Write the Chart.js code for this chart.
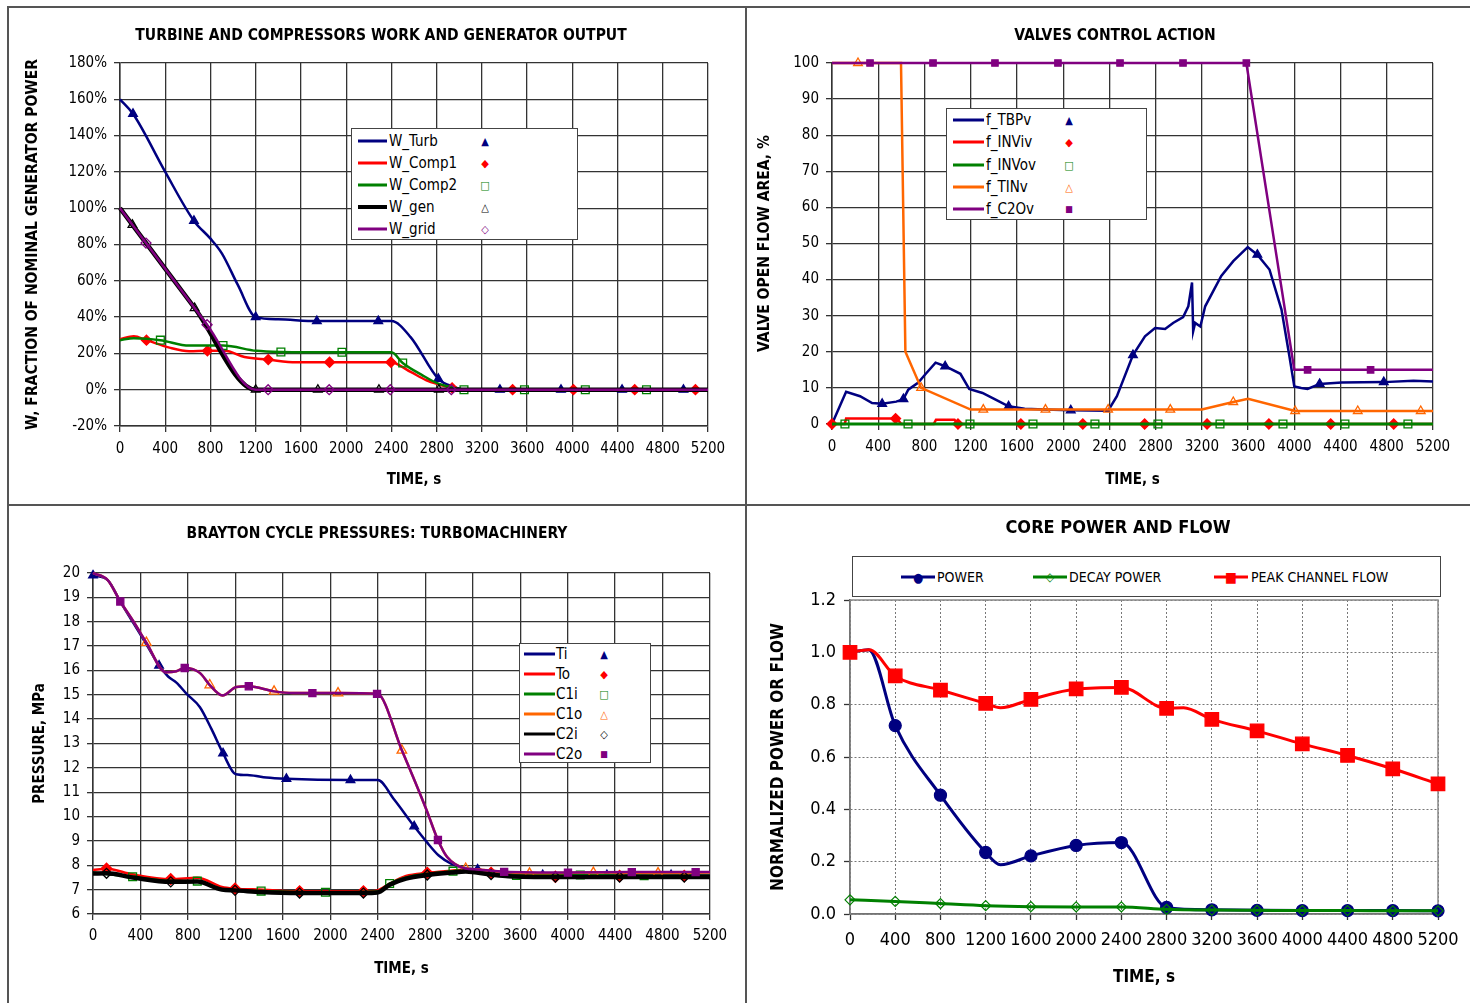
<!DOCTYPE html>
<html lang="en">
<head>
<meta charset="UTF-8">
<title>Brayton cycle transient</title>
<script src="https://cdn.jsdelivr.net/npm/chart.js"></script>
<style>
  body { margin: 0; width: 1470px; height: 1003px; position: relative; overflow: hidden; background: #fff;
         font-family: "DejaVu Sans Condensed", "Noto Sans", sans-serif; color: #000; }
  .rule { position: absolute; background: #555; }
  canvas { position: absolute; }
  .ptitle { position: absolute; font-weight: bold; white-space: nowrap; transform: translate(-50%, -50%); }
  .legend { position: absolute; border: 1.5px solid #444; background: #fff; box-sizing: border-box; }
  .legend div { position: absolute; white-space: nowrap; }
  .sw { height: 3px; transform: translateY(-50%); }
  .lbl { transform: translateY(-50%); }
  .mk { transform: translate(-50%, -50%); line-height: 1; }
</style>
</head>
<body>
<div class="rule" style="left:8px;top:6px;width:1462px;height:2px"></div>
<div class="rule" style="left:7px;top:6px;width:2px;height:997px"></div>
<div class="rule" style="left:745px;top:6px;width:2px;height:997px"></div>
<div class="rule" style="left:8px;top:504px;width:1462px;height:2px"></div>

<canvas id="work" width="734" height="494" style="left:10px;top:9px"></canvas>
<canvas id="valves" width="722" height="494" style="left:747px;top:9px"></canvas>
<canvas id="press" width="734" height="496" style="left:10px;top:507px"></canvas>
<canvas id="core" width="722" height="496" style="left:747px;top:507px"></canvas>

<div class="ptitle" style="left:381px;top:35px;font-size:15.5px">TURBINE AND COMPRESSORS WORK AND GENERATOR OUTPUT</div>
<div class="ptitle" style="left:1115px;top:35px;font-size:15.5px">VALVES CONTROL ACTION</div>
<div class="ptitle" style="left:377px;top:533px;font-size:15.5px">BRAYTON CYCLE PRESSURES: TURBOMACHINERY</div>
<div class="ptitle" style="left:1118px;top:526px;font-size:18px">CORE POWER AND FLOW</div>

<div id="leg1" class="legend"></div>
<div id="leg2" class="legend"></div>
<div id="leg3" class="legend"></div>
<div id="leg4" class="legend"></div>

<script>
// ---------- shared axis ticks ----------
const timeTicks = [0, 400, 800, 1200, 1600, 2000, 2400, 2800, 3200, 3600, 4000, 4400, 4800, 5200];
const workTicks = [-20, 0, 20, 40, 60, 80, 100, 120, 140, 160, 180];
const valveTicks = [0, 10, 20, 30, 40, 50, 60, 70, 80, 90, 100];
const pressTicks = [6, 7, 8, 9, 10, 11, 12, 13, 14, 15, 16, 17, 18, 19, 20];
const coreTicks = [0, 0.2, 0.4, 0.6, 0.8, 1.0, 1.2];

// ---------- panel 1: work, % of nominal generator power ----------
const workLabels = ['W_Turb', 'W_Comp1', 'W_Comp2', 'W_gen', 'W_grid'];
const wTurbT = [0, 115, 400, 654, 796, 902, 1043, 1200, 1400, 1741, 2284, 2400, 2570, 2815, 2955, 3050, 3360, 3900, 4440, 4983, 5200];
const wTurbV = [160, 152, 120, 93, 83.5, 75, 57.6, 40, 38.8, 37.8, 37.8, 37.8, 29, 6, 1.5, 0, 0, 0, 0, 0, 0];
const wTurbMk = [115, 654, 1200, 1741, 2284, 2815, 3360, 3900, 4440, 4983];
const wComp1T = [0, 122, 234, 437, 612, 773, 927, 1101, 1311, 1556, 1853, 2396, 2570, 2710, 2815, 2937, 3000, 3472, 4010, 4552, 5089, 5200];
const wComp1V = [27.8, 29.5, 27.3, 23.2, 21.2, 21.4, 21.4, 18, 16.6, 15.1, 15.1, 15.1, 9.8, 5.2, 3, 1, 0, 0, 0, 0, 0, 0];
const wComp1Mk = [234, 773, 1311, 1853, 2396, 2937, 3472, 4010, 4552, 5089];
const wComp2T = [0, 122, 357, 612, 911, 1206, 1423, 1963, 2400, 2500, 2675, 2815, 2920, 3042, 3577, 4115, 4656, 5200];
const wComp2V = [27.3, 28.4, 27.3, 24.3, 24.3, 21.4, 20.8, 20.6, 20.6, 14.7, 7.9, 3.3, 1.5, 0, 0, 0, 0, 0];
const wComp2Mk = [357, 911, 1423, 1963, 2500, 3042, 3577, 4115, 4656];
const wGenT = [0, 110, 660, 1200, 1750, 2290, 2820, 5200];
const wGenV = [100, 90.8, 45, 0, 0, 0, 0, 0];
const wGenMk = [110, 660, 1200, 1750, 2290, 2820];
const wGridT = [0, 230, 770, 1200, 1310, 1850, 2390, 2930, 5200];
const wGridV = [100, 80.8, 35.8, 0, 0, 0, 0, 0, 0];
const wGridMk = [230, 770, 1310, 1850, 2390, 2930];

// ---------- panel 2: valve open flow area, % ----------
const valveLabels = ['f_TBPv', 'f_INViv', 'f_INVov', 'f_TINv', 'f_C2Ov'];
const tbpT = [0, 122, 243, 347, 434, 556, 618, 660, 747, 806, 896, 979, 1111, 1187, 1302, 1424, 1528, 1667, 1840, 2066, 2389,
  2465, 2604, 2708, 2795, 2882, 2951, 3038, 3083, 3115, 3125, 3142, 3187, 3229, 3368, 3472, 3597, 3680, 3785, 3889, 3958,
  4000, 4060, 4115, 4219, 4410, 4774, 5031, 5200];
const tbpV = [0, 8.9, 7.7, 5.8, 5.6, 6.2, 6.9, 9.5, 11.5, 13.7, 17, 16, 13.9, 9.7, 8.6, 6.6, 4.9, 4.2, 4, 3.8, 3.7,
  7.7, 19.1, 24.3, 26.6, 26.3, 28, 29.6, 32.6, 39.2, 25.7, 28, 27, 32.6, 41, 45.1, 49, 46.9, 42.8, 31.7, 18.7,
  10.4, 10, 9.7, 11.1, 11.5, 11.6, 12, 11.8];
const tbpMk = [434, 618, 979, 1528, 2066, 2604, 3680, 4219, 4774];
const inviT = [0, 110, 122, 550, 560, 600, 880, 900, 1060, 1090, 1634, 2170, 2705, 3245, 3780, 4315, 4860, 5200];
const inviV = [0, 0, 1.5, 1.5, 1.5, 0, 0, 1.2, 1.2, 0, 0, 0, 0, 0, 0, 0, 0, 0];
const inviMk = [0, 550, 1090, 1634, 2170, 2705, 3245, 3780, 4315, 4860];
const invoT = [0, 112, 658, 1194, 1739, 2275, 2820, 3357, 3902, 4438, 4983, 5200];
const invoV = [0, 0, 0, 0, 0, 0, 0, 0, 0, 0, 0, 0];
const invoMk = [112, 658, 1194, 1739, 2275, 2820, 3357, 3902, 4438, 4983];
const tinT = [0, 225, 597, 635, 771, 1200, 1309, 1847, 2389, 2927, 3200, 3472, 3600, 4007, 4549, 5094, 5200];
const tinV = [100, 100, 100, 20, 10, 4, 4, 4, 4, 4, 4, 6.1, 7, 3.6, 3.6, 3.6, 3.6];
const tinMk = [225, 771, 1309, 1847, 2389, 2927, 3472, 4007, 4549, 5094];
const c2ovT = [0, 329, 874, 1410, 1955, 2492, 3037, 3585, 4000, 4115, 4660, 5200];
const c2ovV = [100, 100, 100, 100, 100, 100, 100, 100, 15, 15, 15, 15];
const c2ovMk = [329, 874, 1410, 1955, 2492, 3037, 3585, 4115, 4660];

// ---------- panel 3: Brayton cycle pressures, MPa ----------
const pressLabels = ['Ti', 'To', 'C1i', 'C1o', 'C2i', 'C2o'];
const tiT = [0, 126, 225, 337, 450, 557, 633, 703, 787, 900, 998, 1096, 1203, 1321, 1461, 1630, 2170, 2400, 2538, 2707, 2810,
  2914, 3017, 3138, 3241, 3362, 3500, 3790, 4331, 4872, 5200];
const tiP = [19.9, 19.7, 18.87, 17.97, 17.07, 16.2, 15.75, 15.5, 15.05, 14.5, 13.6, 12.6, 11.74, 11.7, 11.6, 11.55, 11.5, 11.5,
  10.7, 9.6, 8.97, 8.4, 8.07, 7.88, 7.83, 7.73, 7.65, 7.6, 7.6, 7.6, 7.6];
const tiMk = [0, 557, 1096, 1630, 2170, 2707, 3241, 3790, 4331, 4872];
const toT = [0, 114, 328, 655, 879, 1086, 1197, 1431, 1741, 2279, 2397, 2500, 2638, 2817, 3017, 3141, 3241, 3355, 3500, 3897, 4438, 4983, 5200];
const toP = [7.81, 7.86, 7.63, 7.43, 7.49, 7.11, 7.04, 7.0, 6.93, 6.93, 6.97, 7.25, 7.56, 7.69, 7.78, 7.83, 7.83, 7.69, 7.6, 7.53, 7.56, 7.56, 7.56];
const toMk = [114, 655, 1197, 1741, 2279, 2817, 3355, 3897, 4438, 4983];
const c1iT = [0, 334, 655, 879, 1086, 1417, 1959, 2397, 2500, 2638, 2817, 3034, 3141, 3300, 3569, 4107, 4645, 5200];
const c1iP = [7.7, 7.53, 7.36, 7.35, 7.02, 6.94, 6.89, 6.92, 7.25, 7.5, 7.65, 7.76, 7.8, 7.7, 7.58, 7.6, 7.57, 7.57];
const c1iMk = [334, 879, 1417, 1959, 2500, 3034, 3569, 4107, 4645];
const c1oT = [0, 126, 230, 337, 450, 613, 703, 773, 900, 984, 1091, 1209, 1313, 1526, 1686, 1849, 2065, 2394, 2603, 2810,
  2907, 2983, 3141, 3240, 3465, 3679, 4217, 4762, 5200];
const c1oP = [20, 19.7, 18.83, 18.04, 17.14, 15.93, 15.97, 16.1, 15.9, 15.4, 14.97, 15.32, 15.35, 15.14, 15.07, 15.07, 15.07,
  15.04, 12.72, 10.28, 9.04, 8.35, 7.87, 7.83, 7.73, 7.67, 7.7, 7.68, 7.7];
const c1oMk = [450, 984, 1526, 2065, 2603, 3141, 3679, 4217, 4762];
const c2iT = [0, 114, 334, 655, 879, 1086, 1197, 1417, 1741, 2279, 2397, 2500, 2638, 2817, 3017, 3141, 3355, 3500, 3897, 4438, 4983, 5200];
const c2iP = [7.66, 7.67, 7.5, 7.32, 7.33, 7.0, 6.97, 6.9, 6.86, 6.86, 6.88, 7.2, 7.45, 7.6, 7.7, 7.75, 7.62, 7.55, 7.52, 7.52, 7.52, 7.52];
const c2iMk = [114, 655, 1197, 1741, 2279, 2817, 3355, 3897, 4438, 4983];
const c2oT = [0, 126, 230, 337, 450, 613, 703, 773, 900, 984, 1091, 1209, 1313, 1526, 1686, 1849, 2065, 2394, 2603, 2810,
  2907, 2983, 3138, 3240, 3465, 4003, 4541, 5079, 5200];
const c2oP = [20, 19.7, 18.83, 18.04, 17.14, 15.93, 15.97, 16.1, 15.9, 15.4, 14.97, 15.32, 15.35, 15.14, 15.07, 15.07, 15.07,
  15.04, 12.72, 10.28, 9.04, 8.35, 7.87, 7.83, 7.73, 7.7, 7.72, 7.72, 7.72];
const c2oMk = [230, 773, 1313, 1849, 2394, 2907, 3465, 4003, 4541, 5079];

// ---------- panel 4: core power and flow (normalized) ----------
const coreLabels = ['POWER', 'DECAY POWER', 'PEAK CHANNEL FLOW'];
const powerT = [0, 165, 400, 800, 1200, 1330, 1600, 2000, 2400, 2800, 3200, 3600, 4000, 4400, 4800, 5200];
const powerV = [1.0, 1.01, 0.72, 0.454, 0.235, 0.188, 0.222, 0.262, 0.273, 0.025, 0.016, 0.014, 0.013, 0.013, 0.013, 0.012];
const decayT = [0, 400, 800, 1200, 1600, 2000, 2400, 2800, 3200, 3600, 4000, 4400, 4800, 5200];
const decayV = [0.054, 0.048, 0.040, 0.032, 0.028, 0.027, 0.027, 0.018, 0.015, 0.014, 0.013, 0.013, 0.012, 0.012];
const flowT = [0, 170, 400, 800, 1200, 1330, 1600, 2000, 2400, 2800, 2950, 3200, 3600, 4000, 4400, 4800, 5200];
const flowV = [1.0, 1.01, 0.91, 0.856, 0.805, 0.788, 0.82, 0.86, 0.866, 0.786, 0.788, 0.744, 0.70, 0.65, 0.606, 0.555, 0.497];
const coreMk = [0, 400, 800, 1200, 1600, 2000, 2400, 2800, 3200, 3600, 4000, 4400, 4800, 5200];

// ---------- helpers ----------
const FONT = '"DejaVu Sans Condensed", "Noto Sans", sans-serif';
Chart.defaults.font.family = FONT;
Chart.defaults.color = '#000';

const NAVY = '#000080', RED = '#ff0000', GREEN = '#008000', ORANGE = '#ff6600', PURPLE = '#800080', BLACK = '#000000';

function pts(ts, vs) {
  return ts.map((t, i) => ({ x: t, y: vs[i] }));
}

function series(label, ts, vs, marks, st, n, i) {
  return {
    label: label,
    data: pts(ts, vs),
    borderColor: st.color,
    borderWidth: st.w || 2.5,
    pointStyle: st.shape,
    pointRadius: c => (marks.includes(ts[c.dataIndex]) ? st.r : 0),
    pointHoverRadius: 0,
    pointBorderColor: st.color,
    pointBorderWidth: st.pw || 1.3,
    pointBackgroundColor: st.fill ? st.color : 'rgba(255,255,255,0)',
    tension: st.t || 0,
    cubicInterpolationMode: st.mono ? 'monotone' : 'default',
    clip: 12,
    order: n - i
  };
}

function axes(o) {
  const grid = { color: o.gridColor || '#333', lineWidth: o.gridW || 1.3, tickLength: 6, tickColor: '#333', tickWidth: 1.3 };
  const border = { color: '#333', width: 1.5, dash: o.dash || [] };
  return {
    x: {
      type: 'linear', min: 0, max: 5200,
      afterBuildTicks: s => { s.ticks = timeTicks.map(v => ({ value: v })); },
      afterFit: s => { s.height = o.xh; s.paddingLeft = 0; s.paddingRight = 0; },
      ticks: { font: { size: o.tick }, padding: o.xpad, maxRotation: 0, autoSkip: false, callback: v => String(v) },
      grid: grid, border: border,
      title: { display: true, text: 'TIME, s', font: { size: o.xts || o.ts, weight: 'bold' }, padding: { top: 0, bottom: o.xtp } }
    },
    y: {
      type: 'linear', min: o.ticks[0], max: o.ticks[o.ticks.length - 1],
      afterBuildTicks: s => { s.ticks = o.ticks.map(v => ({ value: v })); },
      afterFit: s => { s.width = o.yw; s.paddingTop = 0; s.paddingBottom = 0; },
      ticks: { font: { size: o.tick }, padding: o.ypad, callback: o.fmt || (v => String(v)) },
      grid: grid, border: border,
      title: { display: true, text: o.ytitle, font: { size: o.ts, weight: 'bold' }, padding: { top: o.ytp, bottom: 0 } }
    }
  };
}

const plotFrame = {
  id: 'plotFrame',
  beforeDatasetsDraw(chart, args, opts) {
    if (!opts.color) return;
    const a = chart.chartArea, ctx = chart.ctx;
    ctx.save();
    ctx.strokeStyle = opts.color;
    ctx.lineWidth = 1.5;
    ctx.strokeRect(a.left, a.top, a.right - a.left, a.bottom - a.top);
    ctx.restore();
  }
};

function draw(id, datasets, scales, pad, frameColor) {
  new Chart(document.getElementById(id), {
    type: 'line',
    data: { datasets: datasets },
    options: {
      responsive: false,
      animation: false,
      layout: { padding: pad },
      scales: scales,
      plugins: { legend: { display: false }, tooltip: { enabled: false }, plotFrame: { color: frameColor } }
    },
    plugins: [plotFrame]
  });
}

function legend(id, box, items) {
  const el = document.getElementById(id);
  Object.assign(el.style, { left: box.left + 'px', top: box.top + 'px', width: box.w + 'px', height: box.h + 'px' });
  let html = '';
  items.forEach((it, i) => {
    const cy = box.row0 + i * box.rowH;
    html += `<div class="sw" style="left:${box.lineX}px;top:${cy}px;width:${box.lineW}px;height:${it.lw || 3}px;background:${it.color}"></div>`;
    html += `<div class="lbl" style="left:${box.textX}px;top:${cy}px;font-size:${box.fs}px">${it.label}</div>`;
    html += `<div class="mk" style="left:${box.markX}px;top:${cy}px;font-size:${it.gs || 11}px;color:${it.color}">${it.glyph}</div>`;
  });
  el.innerHTML = html;
}

// ---------- panel 1 ----------
const workStyles = [
  { color: NAVY, shape: 'triangle', r: 5, fill: true },
  { color: RED, shape: 'rectRot', r: 5, fill: true },
  { color: GREEN, shape: 'rect', r: 5.5 },
  { color: BLACK, shape: 'triangle', r: 5, w: 4.5 },
  { color: PURPLE, shape: 'rectRot', r: 5 }
];
const workData = [[wTurbT, wTurbV, wTurbMk], [wComp1T, wComp1V, wComp1Mk], [wComp2T, wComp2V, wComp2Mk],
  [wGenT, wGenV, wGenMk], [wGridT, wGridV, wGridMk]];
draw('work',
  workData.map((d, i) => series(workLabels[i], d[0], d[1], d[2], Object.assign({ mono: true }, workStyles[i]), 5, i)),
  axes({ ticks: workTicks, fmt: v => v + '%', ytitle: 'W, FRACTION OF NOMINAL GENERATOR POWER',
         yw: 110, xh: 77, tick: 15, ts: 15.5, xts: 15, xpad: 8, ypad: 7, ytp: 14, xtp: 14 }),
  { left: 0, right: 36, top: 54, bottom: 0 });
legend('leg1', { left: 351, top: 128, w: 227, h: 112, row0: 12, rowH: 22, lineX: 6, lineW: 29, textX: 37, markX: 133, fs: 15 },
  [{ label: workLabels[0], color: NAVY, glyph: '▲' }, { label: workLabels[1], color: RED, glyph: '◆' },
   { label: workLabels[2], color: GREEN, glyph: '□' }, { label: workLabels[3], color: BLACK, glyph: '△', lw: 4 },
   { label: workLabels[4], color: PURPLE, glyph: '◇' }]);

// ---------- panel 2 ----------
const valveStyles = [
  { color: NAVY, shape: 'triangle', r: 5, fill: true },
  { color: RED, shape: 'rectRot', r: 5, fill: true },
  { color: GREEN, shape: 'rect', r: 5.5, w: 3 },
  { color: ORANGE, shape: 'triangle', r: 5 },
  { color: PURPLE, shape: 'rect', r: 4.5, fill: true }
];
const valveData = [[tbpT, tbpV, tbpMk], [inviT, inviV, inviMk], [invoT, invoV, invoMk], [tinT, tinV, tinMk], [c2ovT, c2ovV, c2ovMk]];
draw('valves',
  valveData.map((d, i) => series(valveLabels[i], d[0], d[1], d[2], valveStyles[i], 5, i)),
  axes({ ticks: valveTicks, ytitle: 'VALVE OPEN FLOW AREA, %',
         yw: 85, xh: 79, tick: 15, ts: 15.5, xts: 15, xpad: 8, ypad: 7, ytp: 9, xtp: 14 }),
  { left: 0, right: 36, top: 54, bottom: 0 });
legend('leg2', { left: 946, top: 108, w: 201, h: 112, row0: 11, rowH: 22.3, lineX: 6, lineW: 31, textX: 39, markX: 122, fs: 15 },
  [{ label: valveLabels[0], color: NAVY, glyph: '▲' }, { label: valveLabels[1], color: RED, glyph: '◆' },
   { label: valveLabels[2], color: GREEN, glyph: '□' }, { label: valveLabels[3], color: ORANGE, glyph: '△' },
   { label: valveLabels[4], color: PURPLE, glyph: '■', gs: 9 }]);

// ---------- panel 3 ----------
const pressStyles = [
  { color: NAVY, shape: 'triangle', r: 5, fill: true },
  { color: RED, shape: 'rectRot', r: 5.5, fill: true },
  { color: GREEN, shape: 'rect', r: 5.5 },
  { color: ORANGE, shape: 'triangle', r: 5.5 },
  { color: BLACK, shape: 'rectRot', r: 5, w: 4.5 },
  { color: PURPLE, shape: 'rect', r: 5, fill: true }
];
const pressData = [[tiT, tiP, tiMk], [toT, toP, toMk], [c1iT, c1iP, c1iMk], [c1oT, c1oP, c1oMk], [c2iT, c2iP, c2iMk], [c2oT, c2oP, c2oMk]];
draw('press',
  pressData.map((d, i) => series(pressLabels[i], d[0], d[1], d[2], Object.assign({ mono: true }, pressStyles[i]), 6, i)),
  axes({ ticks: pressTicks, ytitle: 'PRESSURE, MPa',
         yw: 83, xh: 89, tick: 15, ts: 15, xpad: 7, ypad: 7, ytp: 21, xtp: 25 }),
  { left: 0, right: 34, top: 66, bottom: 0 });
legend('leg3', { left: 519, top: 643, w: 132, h: 120, row0: 10, rowH: 20, lineX: 4, lineW: 31, textX: 36, markX: 84, fs: 15 },
  [{ label: pressLabels[0], color: NAVY, glyph: '▲' }, { label: pressLabels[1], color: RED, glyph: '◆' },
   { label: pressLabels[2], color: GREEN, glyph: '□' }, { label: pressLabels[3], color: ORANGE, glyph: '△' },
   { label: pressLabels[4], color: BLACK, glyph: '◇' }, { label: pressLabels[5], color: PURPLE, glyph: '■', gs: 9 }]);

// ---------- panel 4 ----------
const coreStyles = [
  { color: NAVY, shape: 'circle', r: 6, fill: true, w: 3, mono: true },
  { color: GREEN, shape: 'rectRot', r: 5, w: 3, mono: true, pw: 1.2 },
  { color: RED, shape: 'rect', r: 9.5, fill: true, w: 3, mono: true }
];
const coreData = [[powerT, powerV], [decayT, decayV], [flowT, flowV]];
draw('core',
  coreData.map((d, i) => series(coreLabels[i], d[0], d[1], coreMk, coreStyles[i], 3, i)),
  axes({ ticks: coreTicks, fmt: v => v.toFixed(1), ytitle: 'NORMALIZED POWER OR FLOW',
         yw: 103, xh: 89, tick: 18, ts: 17, xpad: 10, ypad: 8, ytp: 21, xtp: 15,
         gridColor: '#777', gridW: 1, dash: [2, 2] }),
  { left: 0, right: 31, top: 93, bottom: 0 }, '#8a8a8a');

(function () {
  const el = document.getElementById('leg4');
  Object.assign(el.style, { left: '852px', top: '556px', width: '589px', height: '41px' });
  const items = [
    { x: 48, lx: 84, color: NAVY, glyph: '●', gs: 13 },
    { x: 180, lx: 216, color: GREEN, glyph: '◇', gs: 12 },
    { x: 361, lx: 398, color: RED, glyph: '■', gs: 14 }
  ];
  let html = '';
  items.forEach((it, i) => {
    html += `<div class="sw" style="left:${it.x}px;top:20px;width:34px;background:${it.color}"></div>`;
    html += `<div class="mk" style="left:${it.x + 17}px;top:20px;font-size:${it.gs}px;color:${it.color}">${it.glyph}</div>`;
    html += `<div class="lbl" style="left:${it.lx}px;top:20px;font-size:14px">${coreLabels[i]}</div>`;
  });
  el.innerHTML = html;
})();
</script>
</body>
</html>
